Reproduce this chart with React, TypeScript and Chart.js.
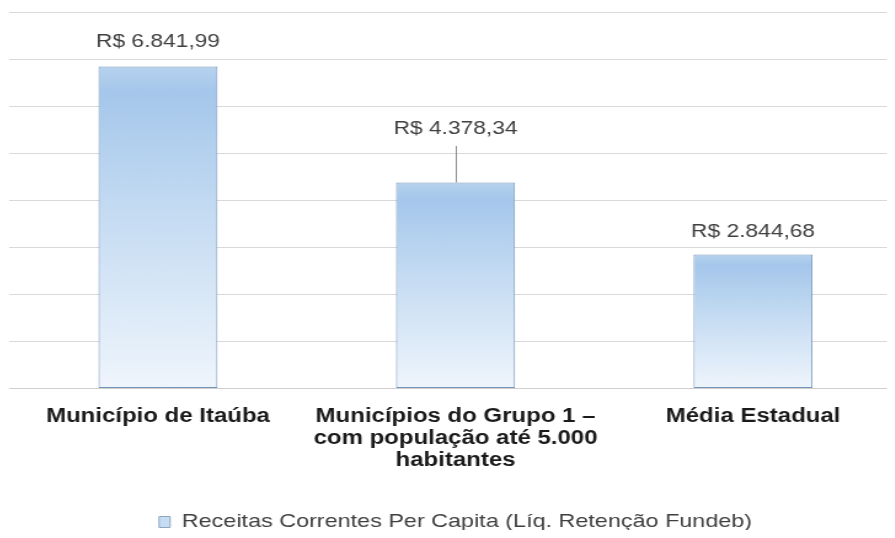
import React, { useEffect, useRef } from "react";
import { Chart, registerables } from "chart.js";

Chart.register(...registerables);

// ---- data ----
const categories: (string | string[])[] = [
  "Município de Itaúba",
  ["Municípios do Grupo 1 –", "com população até 5.000", "habitantes"],
  "Média Estadual",
];
const values: number[] = [6841.99, 4378.34, 2844.68];
const valueLabels: string[] = ["R$ 6.841,99", "R$ 4.378,34", "R$ 2.844,68"];
const seriesName = "Receitas Correntes Per Capita (Líq. Retenção Fundeb)";
const yMin = 0;
const yMax = 8000;
const yStep = 1000;

// ---- presentation ----
const STRETCH = 1.23; // the reference is stretched horizontally
const CANVAS_W = 728;
const CANVAS_H = 530;
const labelOffsets = [25, 54, 23];
const labelLeader = [false, true, false];
const FONT = '"Liberation Sans", Arial, sans-serif';

const valueLabelPlugin = {
  id: "valueLabelsPlugin",
  afterDatasetsDraw(chart: any) {
    const { ctx } = chart;
    const meta = chart.getDatasetMeta(0);
    ctx.save();
    ctx.font = `18.5px ${FONT}`;
    ctx.fillStyle = "#404040";
    ctx.textAlign = "center";
    ctx.textBaseline = "middle";
    meta.data.forEach((bar: any, i: number) => {
      const y = bar.y - labelOffsets[i];
      ctx.fillText(valueLabels[i], bar.x, y);
      if (labelLeader[i]) {
        ctx.strokeStyle = "#8c8c8c";
        ctx.lineWidth = 1;
        ctx.beginPath();
        ctx.moveTo(Math.round(bar.x) + 0.5, y + 17.5);
        ctx.lineTo(Math.round(bar.x) + 0.5, bar.y);
        ctx.stroke();
      }
    });
    ctx.restore();
  },
};

export default function App() {
  const ref = useRef<HTMLCanvasElement | null>(null);

  useEffect(() => {
    if (!ref.current) return;
    const chart = new Chart(ref.current, {
      type: "bar",
      data: {
        labels: categories,
        datasets: [
          {
            label: seriesName,
            data: values,
            backgroundColor: (c: any) => {
              const ch = c.chart;
              if (!ch.chartArea || c.type !== "data") return "#c6dcf3";
              const top = ch.scales.y.getPixelForValue(c.raw);
              const bottom = ch.scales.y.getPixelForValue(0);
              const g = ch.ctx.createLinearGradient(0, top, 0, bottom);
              g.addColorStop(0, "#b6d2ee");
              g.addColorStop(0.08, "#a5c7eb");
              g.addColorStop(0.45, "#c4dbf2");
              g.addColorStop(1, "#eff5fc");
              return g;
            },
            borderColor: "#7393ba",
            borderWidth: 1,
            borderSkipped: false,
            barPercentage: 0.4,
            categoryPercentage: 1,
          },
        ],
      },
      options: {
        responsive: false,
        animation: false,
        layout: { padding: { top: 4, left: 1, right: 1.3, bottom: -3.5 } },
        scales: {
          x: {
            grid: { display: false, drawTicks: false },
            border: { display: true, color: "#cfcfcf" },
            ticks: {
              padding: 17,
              maxRotation: 0,
              autoSkip: false,
              color: "#1a1a1a",
              font: { family: FONT, size: 19.5, weight: "bold", lineHeight: 22 / 19.5 },
            },
            afterFit: (s: any) => {
              s.height = 120;
            },
          },
          y: {
            min: yMin,
            max: yMax,
            ticks: { display: false, stepSize: yStep },
            grid: { color: "#d9d9d9", drawTicks: false },
            border: { display: false },
            afterFit: (s: any) => {
              s.width = 0;
            },
          },
        },
        plugins: {
          legend: {
            position: "bottom",
            labels: {
              boxWidth: 9,
              boxHeight: 11,
              padding: 4,
              color: "#404040",
              font: { family: FONT, size: 19 },
              generateLabels: (ch: any) =>
                Chart.defaults.plugins.legend.labels.generateLabels(ch).map((l: any) => ({
                  ...l,
                  fillStyle: "#c6dcf3",
                  strokeStyle: "#8ea6c4",
                  lineWidth: 1,
                })),
            },
          },
          tooltip: { enabled: false },
          title: { display: false },
        },
      } as any,
      plugins: [valueLabelPlugin],
    });
    return () => chart.destroy();
  }, []);

  return (
    <div style={{ width: 887, height: CANVAS_H, overflow: "hidden", marginBottom: -8 }}>
      <div
        style={{
          width: CANVAS_W,
          height: CANVAS_H,
          transform: `scaleX(${STRETCH})`,
          transformOrigin: "0 0",
        }}
      >
        <canvas ref={ref} width={CANVAS_W} height={CANVAS_H} />
      </div>
    </div>
  );
}
